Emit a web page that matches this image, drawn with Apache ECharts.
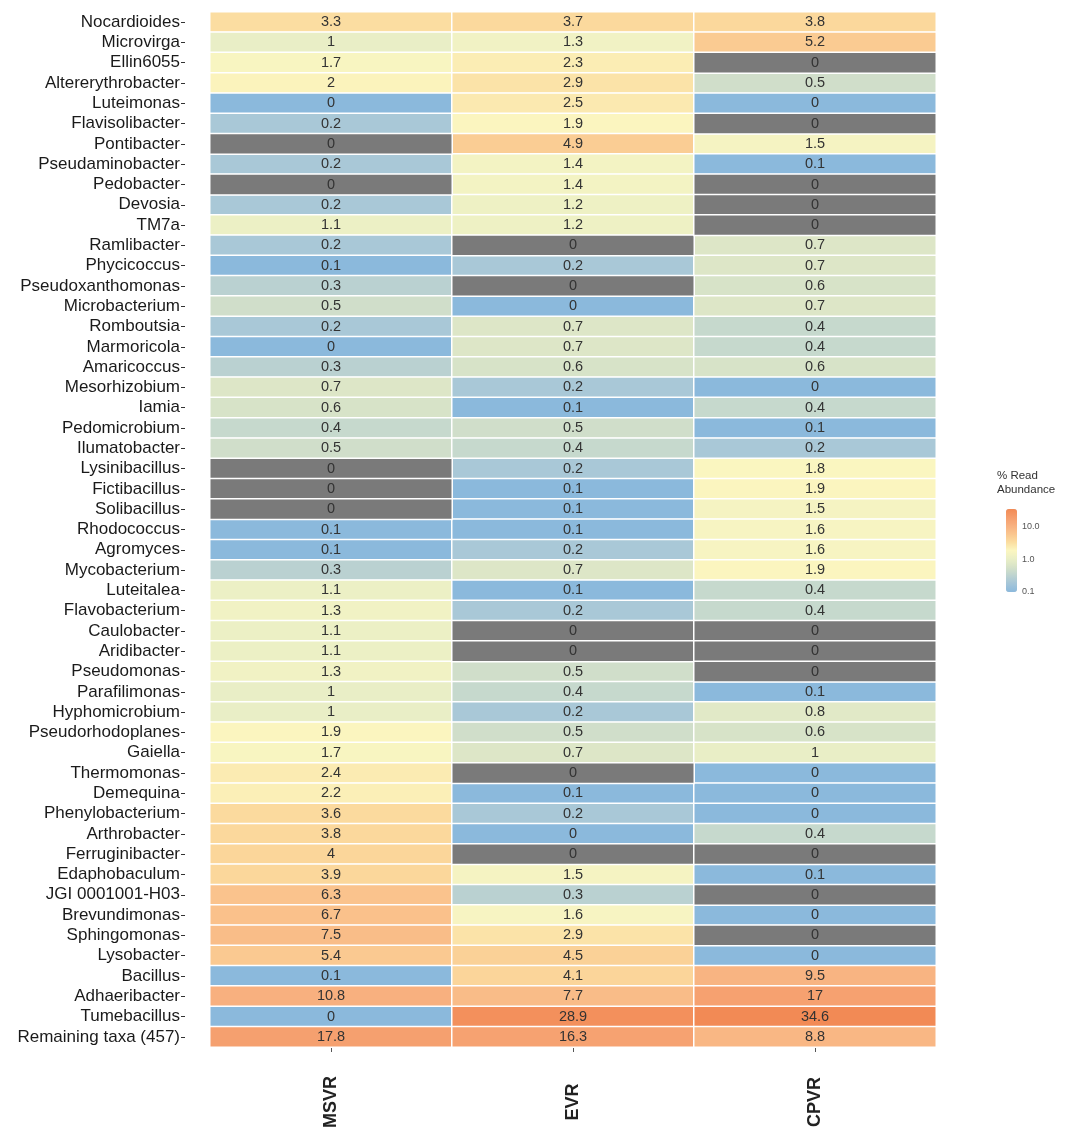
<!DOCTYPE html>
<html>
<head>
<meta charset="utf-8">
<script src="https://cdn.jsdelivr.net/npm/echarts@6/dist/echarts.min.js"></script>
<style>
  html, body { margin: 0; padding: 0; background: #ffffff; }
  #chart { width: 1070px; height: 1146px; }
</style>
</head>
<body>
<div id="chart"></div>
<script>
// Genera listed top to bottom
const taxa = [
  'Nocardioides', 'Microvirga', 'Ellin6055', 'Altererythrobacter', 'Luteimonas',
  'Flavisolibacter', 'Pontibacter', 'Pseudaminobacter', 'Pedobacter', 'Devosia',
  'TM7a', 'Ramlibacter', 'Phycicoccus', 'Pseudoxanthomonas', 'Microbacterium',
  'Romboutsia', 'Marmoricola', 'Amaricoccus', 'Mesorhizobium', 'Iamia',
  'Pedomicrobium', 'Ilumatobacter', 'Lysinibacillus', 'Fictibacillus', 'Solibacillus',
  'Rhodococcus', 'Agromyces', 'Mycobacterium', 'Luteitalea', 'Flavobacterium',
  'Caulobacter', 'Aridibacter', 'Pseudomonas', 'Parafilimonas', 'Hyphomicrobium',
  'Pseudorhodoplanes', 'Gaiella', 'Thermomonas', 'Demequina', 'Phenylobacterium',
  'Arthrobacter', 'Ferruginibacter', 'Edaphobaculum', 'JGI 0001001-H03', 'Brevundimonas',
  'Sphingomonas', 'Lysobacter', 'Bacillus', 'Adhaeribacter', 'Tumebacillus',
  'Remaining taxa (457)'
];

const samples = ['MSVR', 'EVR', 'CPVR'];

// % read abundance per sample; 0 = not detected, 0.03 = trace (shown rounded as 0)
const msvr = [
  3.3, 1, 1.7, 2, 0.03, 0.2, 0, 0.2, 0, 0.2,
  1.1, 0.2, 0.1, 0.3, 0.5, 0.2, 0.03, 0.3, 0.7, 0.6,
  0.4, 0.5, 0, 0, 0, 0.1, 0.1, 0.3, 1.1, 1.3,
  1.1, 1.1, 1.3, 1, 1, 1.9, 1.7, 2.4, 2.2, 3.6,
  3.8, 4, 3.9, 6.3, 6.7, 7.5, 5.4, 0.1, 10.8, 0.03,
  17.8
];
const evr = [
  3.7, 1.3, 2.3, 2.9, 2.5, 1.9, 4.9, 1.4, 1.4, 1.2,
  1.2, 0, 0.2, 0, 0.03, 0.7, 0.7, 0.6, 0.2, 0.1,
  0.5, 0.4, 0.2, 0.1, 0.1, 0.1, 0.2, 0.7, 0.1, 0.2,
  0, 0, 0.5, 0.4, 0.2, 0.5, 0.7, 0, 0.1, 0.2,
  0.03, 0, 1.5, 0.3, 1.6, 2.9, 4.5, 4.1, 7.7, 28.9,
  16.3
];
const cpvr = [
  3.8, 5.2, 0, 0.5, 0.03, 0, 1.5, 0.1, 0, 0,
  0, 0.7, 0.7, 0.6, 0.7, 0.4, 0.4, 0.6, 0.03, 0.4,
  0.1, 0.2, 1.8, 1.9, 1.5, 1.6, 1.6, 1.9, 0.4, 0.4,
  0, 0, 0, 0.1, 0.8, 0.6, 1, 0.03, 0.03, 0.03,
  0.4, 0, 0.1, 0, 0.03, 0, 0.03, 9.5, 17, 34.6,
  8.8
];

const legendTicks = [0.1, 1, 10];

const columns = [msvr, evr, cpvr];
const FONT = '"Liberation Sans", Arial, Helvetica, sans-serif';

// colour scale runs on log10(abundance), squished below 0.1
const logMin = Math.log10(0.1);
const logMax = Math.log10(Math.max(...msvr, ...evr, ...cpvr));

const fmt = v => String(Number(v.toFixed(1)));

const present = [];
const absent = [];
columns.forEach((col, c) => {
  col.forEach((v, r) => {
    if (v > 0) {
      present.push([c, r, Math.max(Math.log10(v), logMin), v]);
    } else {
      absent.push([c, r, v, v]);
    }
  });
});

const cellLabel = {
  show: true,
  formatter: p => fmt(p.value[3]),
  fontFamily: FONT,
  fontSize: 14.5,
  color: '#333333'
};

// colour bar geometry
const barLeft = 1006, barTop = 509, barW = 11, barH = 83;
const tickY = v => barTop + barH * (logMax - Math.log10(v)) / (logMax - logMin);

const chart = echarts.init(document.getElementById('chart'));

chart.setOption({
  backgroundColor: '#ffffff',
  animation: false,
  grid: { left: 210, right: 134, top: 12, bottom: 99 },
  xAxis: {
    type: 'category',
    data: samples,
    axisLine: { show: false },
    axisTick: { show: true, alignWithLabel: true, length: 5, lineStyle: { color: '#555555' } },
    axisLabel: {
      rotate: 90,
      align: 'center',
      margin: 55,
      fontFamily: FONT,
      fontSize: 18,
      fontWeight: 'bold',
      color: '#222222'
    },
    splitLine: { show: false }
  },
  yAxis: {
    type: 'category',
    data: taxa,
    inverse: true,
    offset: 25,
    axisLine: { show: false },
    axisTick: { show: true, alignWithLabel: true, length: 4, lineStyle: { color: '#333333' } },
    axisLabel: {
      interval: 0,
      margin: 5,
      fontFamily: FONT,
      fontSize: 17,
      color: '#1a1a1a'
    },
    splitLine: { show: false }
  },
  visualMap: {
    type: 'continuous',
    seriesIndex: 0,
    dimension: 2,
    min: logMin,
    max: logMax,
    calculable: false,
    orient: 'vertical',
    left: barLeft,
    top: barTop,
    itemWidth: barW,
    itemHeight: barH,
    padding: 0,
    text: null,
    inRange: {
      color: [
        '#8bb9dc', '#a4c5d8', '#bdd3d0', '#d6e2c8', '#eaefc6', '#fbf6c0',
        '#fbdda0', '#fac58e', '#f8b07f', '#f59d6c', '#f28a55'
      ]
    }
  },
  graphic: [
    {
      type: 'text',
      left: 997,
      top: 469,
      style: {
        text: '% Read\nAbundance',
        font: '11.5px ' + FONT,
        lineHeight: 14,
        fill: '#333333'
      }
    },
    ...legendTicks.map(v => ({
      type: 'text',
      x: barLeft + barW + 5,
      y: tickY(v),
      style: {
        text: v.toFixed(1),
        font: '9px ' + FONT,
        fill: '#555555',
        verticalAlign: 'middle'
      }
    }))
  ],
  series: [
    {
      type: 'heatmap',
      data: present,
      label: cellLabel,
      itemStyle: { borderColor: '#ffffff', borderWidth: 1.5 },
      emphasis: { disabled: true }
    },
    {
      type: 'heatmap',
      data: absent,
      label: cellLabel,
      itemStyle: { color: '#7a7a7a', borderColor: '#ffffff', borderWidth: 1.5 },
      emphasis: { disabled: true }
    }
  ]
});
</script>
</body>
</html>
